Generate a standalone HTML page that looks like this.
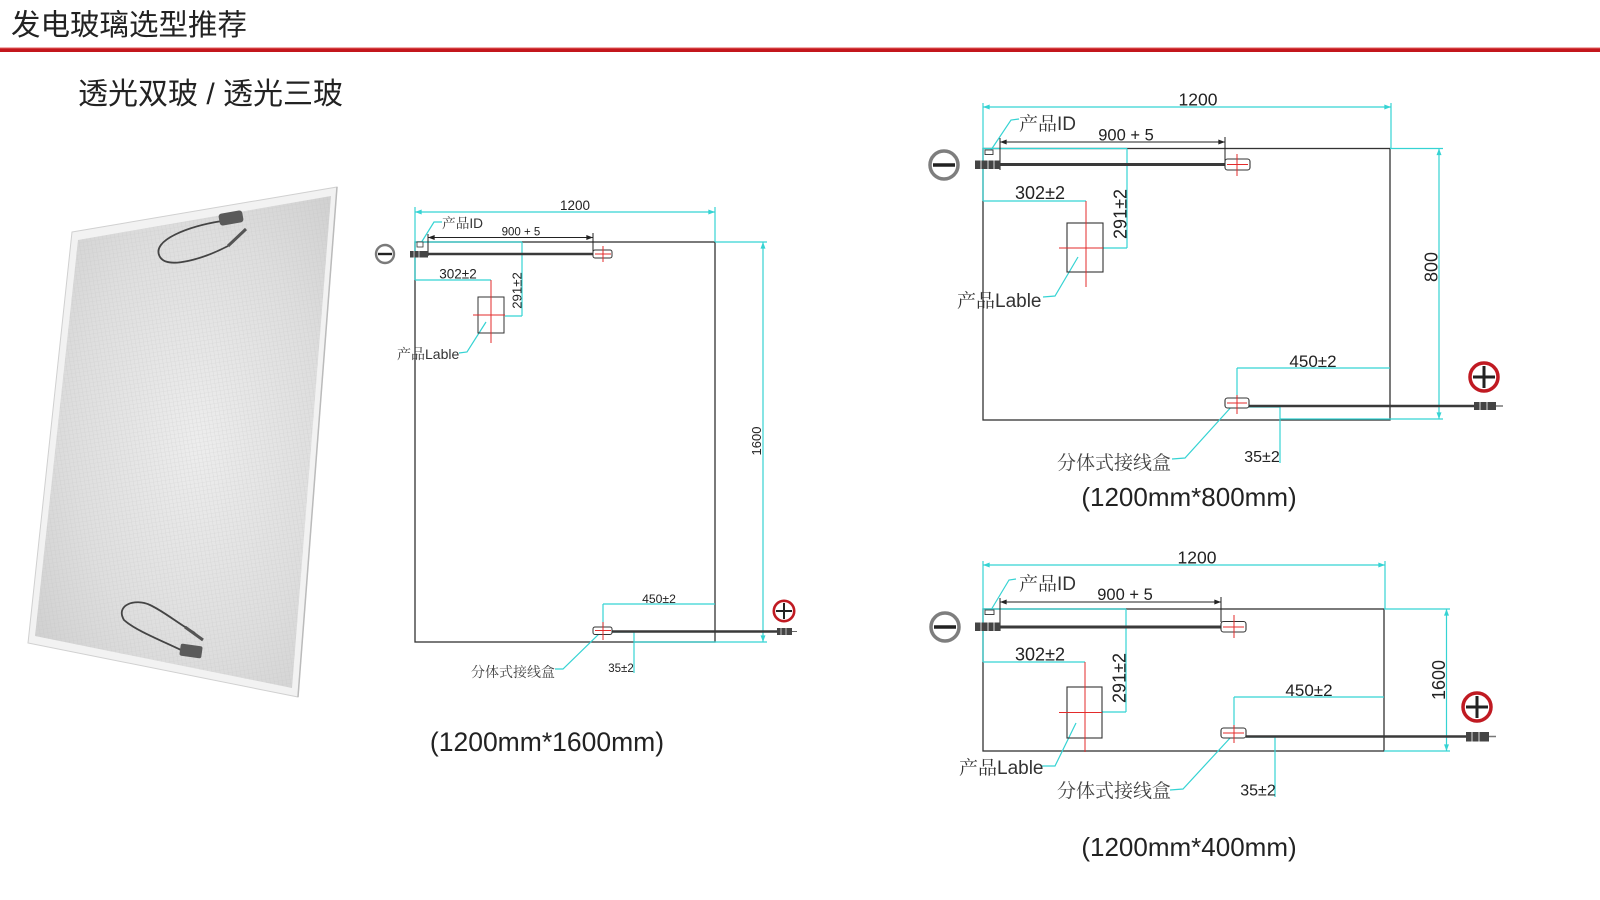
<!DOCTYPE html>
<html>
<head>
<meta charset="utf-8">
<style>
html,body{margin:0;padding:0;background:#fff;}
svg{display:block;}
text{font-family:"Liberation Sans","Noto Sans CJK SC",sans-serif;fill:#222;}
.cn{font-family:"Liberation Sans","Noto Serif CJK SC",serif;fill:#333;}
.c{stroke:#35d3d3;stroke-width:1.2;fill:none;}
.k{stroke:#333;stroke-width:1.3;fill:none;}
.r{stroke:#e32b2b;stroke-width:1;fill:none;}
.cab{stroke:#444;fill:none;}
</style>
</head>
<body>
<svg width="1600" height="900" viewBox="0 0 1600 900" xmlns="http://www.w3.org/2000/svg">
<defs>
  <marker id="ac" viewBox="0 0 8 6" refX="8" refY="3" markerWidth="7" markerHeight="5" markerUnits="userSpaceOnUse" orient="auto-start-reverse">
    <path d="M0,0 L8,3 L0,6 z" fill="#35d3d3"/>
  </marker>
  <marker id="ab" viewBox="0 0 8 6" refX="8" refY="3" markerWidth="7" markerHeight="5" markerUnits="userSpaceOnUse" orient="auto-start-reverse">
    <path d="M0,0 L8,3 L0,6 z" fill="#222"/>
  </marker>
  <radialGradient id="pg" cx="0.55" cy="0.5" r="0.7">
    <stop offset="0" stop-color="#ededed"/>
    <stop offset="0.6" stop-color="#dedede"/>
    <stop offset="1" stop-color="#cfcfcf"/>
  </radialGradient>
  <pattern id="tex" width="4" height="4" patternUnits="userSpaceOnUse" patternTransform="rotate(-9)">
    <path d="M0,0 L0,4 M0,0 L4,0" stroke="#bdbdbd" stroke-width="0.6" opacity="0.5"/>
  </pattern>
</defs>

<!-- header -->
<rect width="1600" height="900" fill="#fff"/>
<text x="11" y="35" font-size="29.5" style="font-family:'Noto Sans CJK SC',sans-serif" fill="#222">发电玻璃选型推荐</text>
<rect x="0" y="48" width="1600" height="4" fill="#c3161c"/>
<rect x="0" y="47.5" width="1600" height="1" fill="#e06060"/>
<text x="78" y="104" font-size="30" style="font-family:'Liberation Sans','Noto Sans CJK SC',sans-serif" fill="#111">透光双玻 / 透光三玻</text>

<!-- left panel image -->
<polygon points="72,232 337,187 298,697 28,643" fill="#f2f2f2" stroke="#d0d0d0" stroke-width="1"/>
<polygon points="78,240 331,196 292,688 35,636" fill="url(#pg)"/>
<polygon points="78,240 331,196 292,688 35,636" fill="url(#tex)"/>
<line x1="337" y1="187" x2="298" y2="697" stroke="#bbb" stroke-width="1.5"/>
<!-- top cable -->
<path d="M222,221 C190,226 150,240 160,257 C168,270 205,258 228,246" class="cab" stroke-width="1.8"/>
<rect x="219" y="212" width="24" height="12" rx="3" fill="#5a5a5a" transform="rotate(-10 231 218)"/>
<line x1="228" y1="246" x2="246" y2="229" stroke="#555" stroke-width="3"/>
<!-- bottom cable -->
<path d="M181,650 C160,640 135,630 124,620 C115,605 135,598 150,605 C165,612 180,625 195,633" class="cab" stroke-width="1.8"/>
<rect x="180" y="645" width="22" height="12" rx="2" fill="#5a5a5a" transform="rotate(8 191 651)"/>
<line x1="185" y1="627" x2="203" y2="640" stroke="#555" stroke-width="3"/>

<!-- ========== Middle diagram (1200x1600) ========== -->
<rect x="415" y="242" width="300" height="400" class="k"/>
<!-- cyan dims -->
<line x1="415" y1="212" x2="715" y2="212" class="c" marker-start="url(#ac)" marker-end="url(#ac)"/>
<line x1="415" y1="207" x2="415" y2="280" class="c"/>
<line x1="715" y1="207" x2="715" y2="242" class="c"/>
<line x1="715" y1="242" x2="767" y2="242" class="c"/>
<line x1="763" y1="242" x2="763" y2="642" class="c" marker-start="url(#ac)" marker-end="url(#ac)"/>
<line x1="634" y1="642" x2="767" y2="642" class="c"/>
<line x1="415" y1="242" x2="522" y2="242" class="c"/>
<line x1="522" y1="242" x2="522" y2="316" class="c"/>
<line x1="505" y1="316" x2="522" y2="316" class="c"/>
<line x1="415" y1="280" x2="491" y2="280" class="c"/>
<line x1="603" y1="604" x2="715" y2="604" class="c"/>
<line x1="603" y1="604" x2="603" y2="630" class="c"/>
<line x1="612" y1="632" x2="634" y2="632" class="c"/>
<line x1="634" y1="632" x2="634" y2="673" class="c"/>
<polyline points="442,222 434,222 421,243" class="c"/>
<polyline points="459,353 467,352 486,322" class="c"/>
<polyline points="555,669 563,669 601,632" class="c"/>
<!-- black parts -->
<line x1="428" y1="237.5" x2="593" y2="237.5" stroke="#222" stroke-width="1" marker-start="url(#ab)" marker-end="url(#ab)"/>
<line x1="428" y1="234" x2="428" y2="256" stroke="#222" stroke-width="1"/>
<line x1="593" y1="233" x2="593" y2="252" stroke="#222" stroke-width="1"/>
<line x1="428" y1="254" x2="593" y2="254" stroke="#3a3a3a" stroke-width="2.6"/>
<rect x="410" y="251" width="18" height="6.5" fill="#444"/>
<line x1="414" y1="251" x2="414" y2="257.5" stroke="#ddd" stroke-width="0.8"/>
<line x1="419" y1="251" x2="419" y2="257.5" stroke="#ddd" stroke-width="0.8"/>
<rect x="417" y="242" width="6" height="5" fill="#fff" stroke="#333" stroke-width="0.8"/>
<rect x="593" y="250" width="19" height="8" rx="2" fill="#fff" stroke="#333" stroke-width="1"/>
<line x1="603" y1="246" x2="603" y2="262" class="r"/>
<line x1="595" y1="254" x2="611" y2="254" class="r"/>
<rect x="478" y="297" width="26" height="36" fill="none" stroke="#333" stroke-width="1"/>
<line x1="473" y1="315" x2="505" y2="315" class="r"/>
<line x1="491" y1="280" x2="491" y2="343" class="r"/>
<line x1="612" y1="631.5" x2="777" y2="631.5" stroke="#3a3a3a" stroke-width="2.4"/>
<rect x="593" y="627" width="19" height="7.5" rx="2" fill="#fff" stroke="#333" stroke-width="1"/>
<line x1="603" y1="622" x2="603" y2="640" class="r"/>
<line x1="595" y1="630.5" x2="611" y2="630.5" class="r"/>
<rect x="777" y="628" width="15" height="7" fill="#444"/>
<line x1="781" y1="628" x2="781" y2="635" stroke="#ddd" stroke-width="0.8"/>
<line x1="786" y1="628" x2="786" y2="635" stroke="#ddd" stroke-width="0.8"/>
<line x1="792" y1="631.5" x2="797" y2="631.5" stroke="#666" stroke-width="1"/>
<!-- minus / plus -->
<circle cx="385" cy="254" r="9" fill="#fff" stroke="#7a7a7a" stroke-width="2.4"/>
<line x1="378" y1="254" x2="392" y2="254" stroke="#222" stroke-width="2.4"/>
<circle cx="784" cy="611" r="10.2" fill="#fff" stroke="#c01a22" stroke-width="2.6"/>
<line x1="776" y1="611" x2="792" y2="611" stroke="#222" stroke-width="2"/>
<line x1="784" y1="603" x2="784" y2="619" stroke="#222" stroke-width="2"/>
<!-- text -->
<text x="575" y="210" font-size="13.5" text-anchor="middle">1200</text>
<text x="442" y="228" font-size="13.7" class="cn">产品ID</text>
<text x="521" y="235.5" font-size="11.5" text-anchor="middle">900 + 5</text>
<text x="458" y="278.5" font-size="13.5" text-anchor="middle">302±2</text>
<text transform="translate(521.5 290.5) rotate(-90)" font-size="13.2" text-anchor="middle">291±2</text>
<text x="397" y="359" font-size="14" class="cn">产品Lable</text>
<text transform="translate(761 441) rotate(-90)" font-size="13" text-anchor="middle">1600</text>
<text x="659" y="603" font-size="12.2" text-anchor="middle">450±2</text>
<text x="621" y="672" font-size="11.5" text-anchor="middle">35±2</text>
<text x="471" y="677" font-size="14" class="cn" style="fill:#444">分体式接线盒</text>
<text x="547" y="751" font-size="26.5" text-anchor="middle" fill="#111">(1200mm*1600mm)</text>

<!-- ========== Top-right diagram (1200x800) ========== -->
<rect x="983" y="148.5" width="407" height="271.5" class="k"/>
<line x1="983" y1="107" x2="1391" y2="107" class="c" marker-start="url(#ac)" marker-end="url(#ac)"/>
<line x1="983" y1="103" x2="983" y2="201" class="c"/>
<line x1="1391" y1="103" x2="1391" y2="148" class="c"/>
<line x1="1390" y1="148.5" x2="1443" y2="148.5" class="c"/>
<line x1="1439" y1="148.5" x2="1439" y2="419" class="c" marker-start="url(#ac)" marker-end="url(#ac)"/>
<line x1="1280" y1="419" x2="1443" y2="419" class="c"/>
<line x1="983" y1="148.5" x2="1127" y2="148.5" class="c"/>
<line x1="1127" y1="148.5" x2="1127" y2="248" class="c"/>
<line x1="1103" y1="248" x2="1127" y2="248" class="c"/>
<line x1="983" y1="201" x2="1086" y2="201" class="c"/>
<line x1="1237" y1="368" x2="1390" y2="368" class="c"/>
<line x1="1237" y1="368" x2="1237" y2="400" class="c"/>
<line x1="1249" y1="407" x2="1280" y2="407" class="c"/>
<line x1="1280" y1="407" x2="1280" y2="463" class="c"/>
<polyline points="1019,119 1011,120 991,150" class="c"/>
<polyline points="1043,297 1055,296 1078,257" class="c"/>
<polyline points="1172,459 1185,458 1233,405" class="c"/>
<line x1="1000" y1="142" x2="1225" y2="142" stroke="#222" stroke-width="1" marker-start="url(#ab)" marker-end="url(#ab)"/>
<line x1="1000" y1="138" x2="1000" y2="170" stroke="#222" stroke-width="1"/>
<line x1="1225" y1="137" x2="1225" y2="162" stroke="#222" stroke-width="1"/>
<line x1="1000" y1="164.5" x2="1225" y2="164.5" stroke="#3a3a3a" stroke-width="3"/>
<rect x="975" y="160.5" width="25" height="8.5" fill="#444"/>
<line x1="981" y1="160.5" x2="981" y2="169" stroke="#ddd" stroke-width="1"/>
<line x1="988" y1="160.5" x2="988" y2="169" stroke="#ddd" stroke-width="1"/>
<line x1="994" y1="160.5" x2="994" y2="169" stroke="#ddd" stroke-width="1"/>
<rect x="985" y="150" width="8" height="4.5" fill="#fff" stroke="#333" stroke-width="0.9"/>
<rect x="1225" y="159" width="25" height="11" rx="2.5" fill="#fff" stroke="#333" stroke-width="1.1"/>
<line x1="1237" y1="154" x2="1237" y2="176" class="r"/>
<line x1="1227" y1="164.5" x2="1248" y2="164.5" class="r"/>
<rect x="1067" y="223" width="36" height="49" fill="none" stroke="#333" stroke-width="1.1"/>
<line x1="1059" y1="248" x2="1103" y2="248" class="r"/>
<line x1="1086" y1="201" x2="1086" y2="287" class="r"/>
<line x1="1249" y1="406" x2="1474" y2="406" stroke="#3a3a3a" stroke-width="2.6"/>
<rect x="1225" y="398" width="24" height="10" rx="2.5" fill="#fff" stroke="#333" stroke-width="1.1"/>
<line x1="1237" y1="395" x2="1237" y2="414" class="r"/>
<line x1="1227" y1="403" x2="1247" y2="403" class="r"/>
<rect x="1474" y="402" width="22" height="8" fill="#444"/>
<line x1="1480" y1="402" x2="1480" y2="410" stroke="#ddd" stroke-width="1"/>
<line x1="1487" y1="402" x2="1487" y2="410" stroke="#ddd" stroke-width="1"/>
<line x1="1496" y1="406" x2="1503" y2="406" stroke="#777" stroke-width="1.5"/>
<circle cx="944" cy="165" r="14" fill="#fff" stroke="#7e7e7e" stroke-width="3.5"/>
<line x1="933" y1="165" x2="955" y2="165" stroke="#222" stroke-width="3.5"/>
<circle cx="1484" cy="377" r="14" fill="#fff" stroke="#c01a22" stroke-width="3.5"/>
<line x1="1473" y1="377" x2="1495" y2="377" stroke="#222" stroke-width="3"/>
<line x1="1484" y1="366" x2="1484" y2="388" stroke="#222" stroke-width="3"/>
<text x="1198" y="105.5" font-size="17.5" text-anchor="middle">1200</text>
<text x="1019" y="130" font-size="19" class="cn">产品ID</text>
<text x="1126" y="140.5" font-size="16.5" text-anchor="middle">900 + 5</text>
<text x="1040" y="199" font-size="18" text-anchor="middle">302±2</text>
<text transform="translate(1126.5 214) rotate(-90)" font-size="18" text-anchor="middle">291±2</text>
<text x="957" y="307" font-size="19" class="cn">产品Lable</text>
<text transform="translate(1437.5 267) rotate(-90)" font-size="18" text-anchor="middle">800</text>
<text x="1313" y="367" font-size="17" text-anchor="middle">450±2</text>
<text x="1262" y="462" font-size="16" text-anchor="middle">35±2</text>
<text x="1057" y="469" font-size="19" class="cn" style="fill:#444">分体式接线盒</text>
<text x="1189" y="506" font-size="26" text-anchor="middle" fill="#111">(1200mm*800mm)</text>

<!-- ========== Bottom-right diagram (1200x400) ========== -->
<rect x="983" y="609" width="401" height="142" class="k"/>
<line x1="983" y1="565" x2="1385" y2="565" class="c" marker-start="url(#ac)" marker-end="url(#ac)"/>
<line x1="983" y1="561" x2="983" y2="662" class="c"/>
<line x1="1385" y1="561" x2="1385" y2="609" class="c"/>
<line x1="1384" y1="609" x2="1450" y2="609" class="c"/>
<line x1="1446.5" y1="609" x2="1446.5" y2="751" class="c" marker-start="url(#ac)" marker-end="url(#ac)"/>
<line x1="1384" y1="751" x2="1450" y2="751" class="c"/>
<line x1="983" y1="609" x2="1126" y2="609" class="c"/>
<line x1="1126" y1="609" x2="1126" y2="712" class="c"/>
<line x1="1102" y1="712" x2="1126" y2="712" class="c"/>
<line x1="983" y1="662" x2="1085" y2="662" class="c"/>
<line x1="1234" y1="697" x2="1384" y2="697" class="c"/>
<line x1="1234" y1="697" x2="1234" y2="730" class="c"/>
<line x1="1246" y1="737" x2="1275" y2="737" class="c"/>
<line x1="1275" y1="737" x2="1275" y2="797" class="c"/>
<polyline points="1016,579 1009,580 991,610" class="c"/>
<polyline points="1042,766 1055,766 1076,723" class="c"/>
<polyline points="1170,790 1183,789 1231,737" class="c"/>
<line x1="1000" y1="602" x2="1221" y2="602" stroke="#222" stroke-width="1" marker-start="url(#ab)" marker-end="url(#ab)"/>
<line x1="1000" y1="598" x2="1000" y2="631" stroke="#222" stroke-width="1"/>
<line x1="1221" y1="597" x2="1221" y2="622" stroke="#222" stroke-width="1"/>
<line x1="1000" y1="627" x2="1221" y2="627" stroke="#3a3a3a" stroke-width="3"/>
<rect x="975" y="622.5" width="25" height="8.5" fill="#444"/>
<line x1="981" y1="622.5" x2="981" y2="631" stroke="#ddd" stroke-width="1"/>
<line x1="988" y1="622.5" x2="988" y2="631" stroke="#ddd" stroke-width="1"/>
<line x1="994" y1="622.5" x2="994" y2="631" stroke="#ddd" stroke-width="1"/>
<rect x="985" y="610" width="9" height="4.5" fill="#fff" stroke="#333" stroke-width="0.9"/>
<rect x="1221" y="621.5" width="25" height="10.5" rx="2.5" fill="#fff" stroke="#333" stroke-width="1.1"/>
<line x1="1234" y1="615" x2="1234" y2="638" class="r"/>
<line x1="1223" y1="627" x2="1244" y2="627" class="r"/>
<rect x="1067" y="687" width="35" height="51" fill="none" stroke="#333" stroke-width="1.1"/>
<line x1="1059" y1="712.5" x2="1102" y2="712.5" class="r"/>
<line x1="1085" y1="662" x2="1085" y2="752" class="r"/>
<line x1="1246" y1="736.5" x2="1466" y2="736.5" stroke="#3a3a3a" stroke-width="2.6"/>
<rect x="1221" y="728" width="25" height="10" rx="2.5" fill="#fff" stroke="#333" stroke-width="1.1"/>
<line x1="1234" y1="725" x2="1234" y2="743" class="r"/>
<line x1="1223" y1="733" x2="1244" y2="733" class="r"/>
<rect x="1466" y="732" width="23" height="9.5" fill="#444"/>
<line x1="1472" y1="732" x2="1472" y2="741.5" stroke="#ddd" stroke-width="1"/>
<line x1="1479" y1="732" x2="1479" y2="741.5" stroke="#ddd" stroke-width="1"/>
<line x1="1489" y1="736.5" x2="1496" y2="736.5" stroke="#777" stroke-width="1.5"/>
<circle cx="945" cy="627" r="14" fill="#fff" stroke="#7e7e7e" stroke-width="3.5"/>
<line x1="934" y1="627" x2="956" y2="627" stroke="#222" stroke-width="3.5"/>
<circle cx="1477" cy="707" r="14" fill="#fff" stroke="#c01a22" stroke-width="3.5"/>
<line x1="1466" y1="707" x2="1488" y2="707" stroke="#222" stroke-width="3"/>
<line x1="1477" y1="696" x2="1477" y2="718" stroke="#222" stroke-width="3"/>
<text x="1197" y="563.5" font-size="17.5" text-anchor="middle">1200</text>
<text x="1019" y="590" font-size="19" class="cn">产品ID</text>
<text x="1125" y="600" font-size="16.5" text-anchor="middle">900 + 5</text>
<text x="1040" y="660.5" font-size="18" text-anchor="middle">302±2</text>
<text transform="translate(1125.5 678) rotate(-90)" font-size="18" text-anchor="middle">291±2</text>
<text x="959" y="774" font-size="19" class="cn">产品Lable</text>
<text transform="translate(1445 680) rotate(-90)" font-size="18" text-anchor="middle">1600</text>
<text x="1309" y="696" font-size="17" text-anchor="middle">450±2</text>
<text x="1258" y="795.5" font-size="16" text-anchor="middle">35±2</text>
<text x="1057" y="797" font-size="19" class="cn" style="fill:#444">分体式接线盒</text>
<text x="1189" y="856" font-size="26" text-anchor="middle" fill="#111">(1200mm*400mm)</text>
</svg>
</body>
</html>
